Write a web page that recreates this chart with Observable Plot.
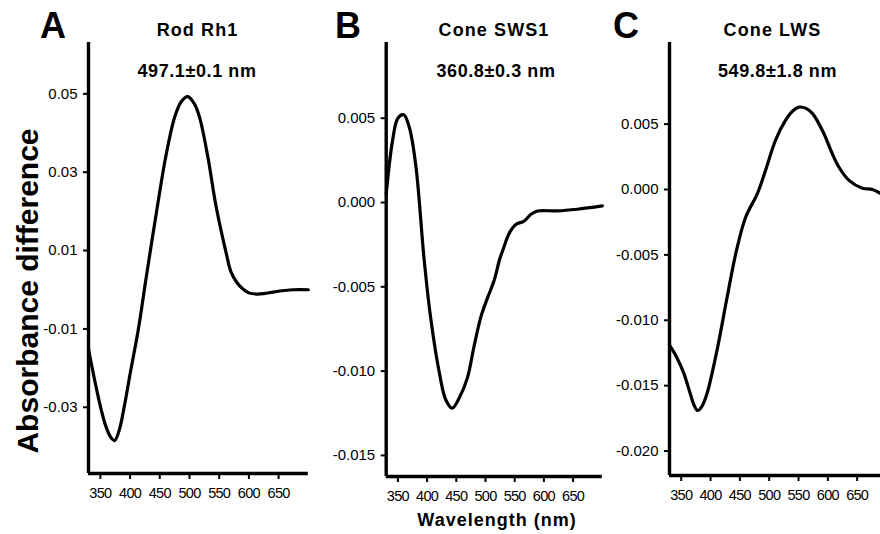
<!DOCTYPE html>
<html><head><meta charset="utf-8">
<script src="https://cdn.jsdelivr.net/npm/d3@7"></script>
<script src="https://cdn.jsdelivr.net/npm/@observablehq/plot@0.6"></script>
<style>
html,body{margin:0;padding:0;background:#fff;overflow:hidden;}
#wrap{position:relative;width:880px;height:534px;overflow:hidden;background:#fff;font-family:"Liberation Sans",Arial,sans-serif;}
.panel{position:absolute;top:0;}
#labels{position:absolute;left:0;top:0;}
</style></head><body><div id="wrap"></div>
<script>
// ---- data ----
const wavelengthTicks = [350, 400, 450, 500, 550, 600, 650];

const rodTicks = [0.05, 0.03, 0.01, -0.01, -0.03];
const rodWavelength = [330, 349, 360, 368, 374, 382, 390, 400, 414, 427, 444, 461, 475, 486, 497, 508, 517, 531, 545, 562, 570, 580, 590, 600, 613, 625, 641, 660, 675, 700];
const rodAbsorbance = [-0.0152, -0.0291, -0.0352, -0.0378, -0.0385, -0.0357, -0.0300, -0.0215, -0.0100, 0.0030, 0.0194, 0.0347, 0.0440, 0.0480, 0.0493, 0.0475, 0.0440, 0.0338, 0.0211, 0.0092, 0.0045, 0.0018, 0.0002, -0.0008, -0.0011, -0.0010, -0.0006, -0.0002, 0.0000, 0.0000];

const swsTicks = [0.005, 0.000, -0.005, -0.010, -0.015];
const swsWavelength = [330, 341, 350, 360, 370, 381, 395, 406, 421, 432, 443, 455, 469, 480, 492, 503, 515, 524, 530, 541, 552, 566, 578, 589, 623, 657, 700];
const swsAbsorbance = [0.0005, 0.0037, 0.0050, 0.0052, 0.0044, 0.0021, -0.0034, -0.0068, -0.0101, -0.0117, -0.0122, -0.0116, -0.0104, -0.0086, -0.0068, -0.0057, -0.0046, -0.0034, -0.0028, -0.0018, -0.0013, -0.0011, -0.0007, -0.0005, -0.0005, -0.0004, -0.0002];

const lwsTicks = [0.005, 0.000, -0.005, -0.010, -0.015, -0.020];
const lwsWavelength = [330, 342, 354, 364, 372, 378, 385, 394, 411, 428, 444, 460, 480, 494, 511, 528, 540, 551, 563, 574, 593, 605, 619, 636, 659, 676, 690, 700];
const lwsAbsorbance = [-0.0119, -0.0128, -0.0140, -0.0154, -0.0165, -0.0169, -0.0166, -0.0156, -0.0123, -0.0083, -0.0047, -0.0021, -0.0003, 0.0015, 0.0038, 0.0053, 0.0060, 0.0063, 0.0062, 0.0058, 0.0043, 0.0030, 0.0017, 0.0007, 0.0001, 0.0000, -0.0003, -0.0005];

const panelLetters = ["A", "B", "C"];
const panelTitles = ["Rod Rh1", "Cone SWS1", "Cone LWS"];
const peakLabels = ["497.1±0.1 nm", "360.8±0.3 nm", "549.8±1.8 nm"];
const yLabel = "Absorbance difference";
const xLabel = "Wavelength (nm)";

// ---- drawing ----
const wrap = document.getElementById("wrap");
const FONT = "Liberation Sans, Arial, sans-serif";

function panel(cfg) {
  const data = cfg.wl.map((w, i) => ({w, a: cfg.ab[i]}));
  const svg = Plot.plot({
    width: cfg.width, height: 534,
    marginLeft: cfg.marginLeft, marginRight: cfg.width - cfg.rangeRight,
    marginTop: 42, marginBottom: cfg.marginBottom,
    style: {background: "transparent", fontFamily: FONT, fontSize: "15px", color: "#000", overflow: "visible", maxWidth: "none"},
    x: {domain: cfg.xDomain},
    y: {domain: cfg.yDomain},
    marks: [
      Plot.axisY(cfg.yTicks, {tickSize: 5, tickPadding: 6, tickFormat: cfg.fmt, strokeWidth: 2, fontSize: 15, label: null}),
      Plot.axisX(wavelengthTicks, {tickSize: 6, tickPadding: 8, fontSize: 14.5, label: null, strokeWidth: 2}),
      Plot.ruleX([cfg.xDomain[0]], {strokeWidth: 3.4}),
      Plot.ruleY([cfg.yDomain[0]], {strokeWidth: 3.4}),
      Plot.line(data, {x: "w", y: "a", strokeWidth: 3.2, curve: "catmull-rom"})
    ]
  });
  d3.select(svg).selectAll('g[aria-label="x-axis tick label"] text').attr("letter-spacing", "-0.7");
  const div = document.createElement("div");
  div.className = "panel";
  div.style.left = cfg.left + "px";
  div.appendChild(svg);
  wrap.appendChild(div);
}

panel({left: 0, width: 312, marginLeft: 88, rangeRight: 307.8, marginBottom: 61,
  wl: rodWavelength, ab: rodAbsorbance, xDomain: [330, 700], yDomain: [-0.0469, 0.0631],
  yTicks: rodTicks, fmt: d => d.toFixed(2)});
panel({left: 290, width: 316, marginLeft: 95.7, rangeRight: 311.8, marginBottom: 58,
  wl: swsWavelength, ab: swsAbsorbance, xDomain: [330, 700], yDomain: [-0.01625, 0.00949],
  yTicks: swsTicks, fmt: d => d.toFixed(3)});
panel({left: 580, width: 310, marginLeft: 89, rangeRight: 306, marginBottom: 59,
  wl: lwsWavelength, ab: lwsAbsorbance, xDomain: [330, 700], yDomain: [-0.02187, 0.01124],
  yTicks: lwsTicks, fmt: d => d.toFixed(3)});

// ---- text overlay ----
const lab = d3.select(wrap).append("svg").attr("id", "labels").attr("width", 880).attr("height", 534)
  .style("font-family", FONT).style("font-weight", "bold");
const letterX = [40, 335, 613];
const titleX = [197.5, 494, 772.5];
const peakX = [197, 496, 777.5];
panelLetters.forEach((t, i) => lab.append("text").attr("x", letterX[i]).attr("y", 38).attr("font-size", 36).text(t));
panelTitles.forEach((t, i) => lab.append("text").attr("x", titleX[i]).attr("y", 36).attr("text-anchor", "middle").attr("font-size", 18).attr("letter-spacing", 1.1).text(t));
peakLabels.forEach((t, i) => lab.append("text").attr("x", peakX[i]).attr("y", 77).attr("text-anchor", "middle").attr("font-size", 18).attr("letter-spacing", 0.6).text(t));
lab.append("text").attr("transform", "translate(38,291) rotate(-90)").attr("text-anchor", "middle").attr("font-size", 30).text(yLabel);
lab.append("text").attr("x", 497).attr("y", 526).attr("text-anchor", "middle").attr("font-size", 18).attr("letter-spacing", 1).text(xLabel);
</script>
</body></html>
